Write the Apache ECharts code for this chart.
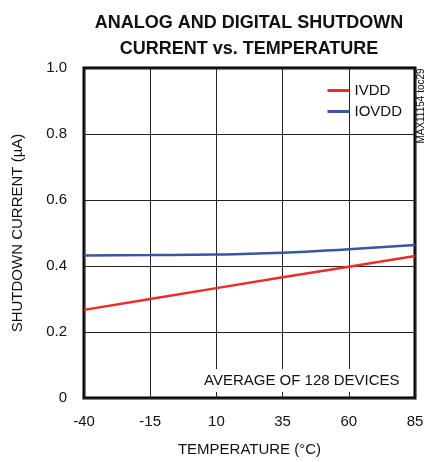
<!DOCTYPE html>
<html><head><meta charset="utf-8">
<script src="https://cdn.jsdelivr.net/npm/echarts@6/dist/echarts.min.js"></script>
<style>html,body{margin:0;padding:0;background:#fff}#c{width:427px;height:462px}</style>
</head><body><div id="c"></div>
<script>
const temps = [-40, -15, 10, 35, 60, 85];
const ivdd = [0.267, 0.300, 0.333, 0.366, 0.398, 0.430];
const iovdd = [0.432, 0.433, 0.435, 0.440, 0.451, 0.464];
const xTicks = [-40, -15, 10, 35, 60, 85];
const yTicks = [0, 0.2, 0.4, 0.6, 0.8, 1.0];
const FONT = '"Liberation Sans Narrow", "Arial Narrow", "Liberation Sans", Arial, sans-serif';
const chart = echarts.init(document.getElementById('c'));
chart.setOption({
  animation: false,
  title: {
    text: 'ANALOG AND DIGITAL SHUTDOWN\nCURRENT vs. TEMPERATURE',
    left: 244, top: 5, textAlign: 'center',
    textStyle: {fontFamily: FONT, fontSize: 18, fontWeight: 'bold', color: '#111', lineHeight: 26}
  },
  grid: {left: 84, right: 12, top: 68, bottom: 63, show: true, borderColor: '#000', borderWidth: 3},
  legend: {
    right: 20, top: 78, orient: 'vertical', itemGap: 6, itemWidth: 22, itemHeight: 3,
    icon: 'rect',
    textStyle: {fontFamily: FONT, fontSize: 15, color: '#111'},
    data: ['IVDD', 'IOVDD']
  },
  xAxis: {
    type: 'value', min: -40, max: 85, interval: 25,
    name: 'TEMPERATURE (°C)', nameLocation: 'middle', nameGap: 44,
    nameTextStyle: {fontFamily: FONT, fontSize: 15, color: '#111'},
    axisLine: {show: false}, axisTick: {show: false},
    axisLabel: {fontFamily: FONT, fontSize: 15, color: '#111', margin: 16},
    splitLine: {show: true, lineStyle: {color: '#222', width: 1}}
  },
  yAxis: {
    type: 'value', min: 0, max: 1.0, interval: 0.2,
    name: 'SHUTDOWN CURRENT (µA)', nameLocation: 'middle', nameGap: 59,
    nameTextStyle: {fontFamily: FONT, fontSize: 15, color: '#111'},
    axisLine: {show: false}, axisTick: {show: false},
    axisLabel: {fontFamily: FONT, fontSize: 15, color: '#111', margin: 17,
      formatter: v => v === 0 ? '0' : v.toFixed(1)},
    splitLine: {show: true, lineStyle: {color: '#222', width: 1}}
  },
  graphic: [
    {type: 'text', left: 200, top: 369, z: 100,
      style: {text: 'AVERAGE OF 128 DEVICES', fontFamily: FONT, fontSize: 15, fill: '#111',
        backgroundColor: '#fff', padding: [4, 4, 4, 4]}},
    {type: 'text', x: 421, y: 106, rotation: Math.PI / 2, z: 100,
      style: {text: 'MAX11154 toc29', fontFamily: FONT, fontSize: 10, fill: '#111',
        align: 'center', verticalAlign: 'middle'}}
  ],
  series: [
    {name: 'IVDD', type: 'line', data: temps.map((t, i) => [t, ivdd[i]]), showSymbol: false, symbol: 'none',
      lineStyle: {color: '#ee2a2a', width: 2.5}, itemStyle: {color: '#ee2a2a'}, z: 5},
    {name: 'IOVDD', type: 'line', smooth: true, data: temps.map((t, i) => [t, iovdd[i]]), showSymbol: false, symbol: 'none',
      lineStyle: {color: '#3a55a4', width: 2.5}, itemStyle: {color: '#3a55a4'}, z: 5}
  ]
});
</script></body></html>
